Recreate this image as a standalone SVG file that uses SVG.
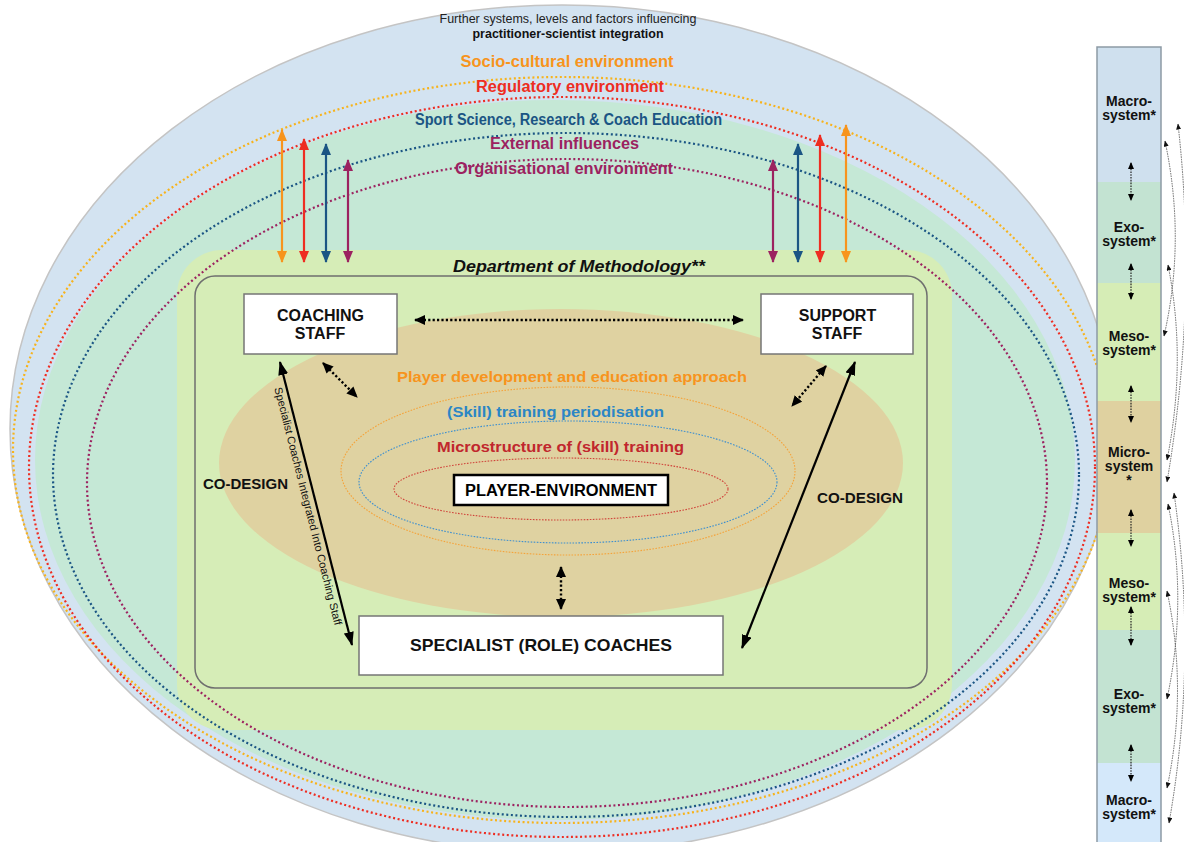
<svg xmlns="http://www.w3.org/2000/svg" width="1184" height="842" viewBox="0 0 1184 842">
<defs>
<style>
text{font-family:"Liberation Sans",Arial,Helvetica,sans-serif;}
.env{font-size:16px;font-weight:bold;text-anchor:middle}
.box{fill:#fff;stroke:#767676;stroke-width:1.5}
.lbl{font-size:17px;font-weight:bold;text-anchor:middle;fill:#111}
.lbl2{font-size:16px;font-weight:bold;text-anchor:middle;fill:#111}
.col{font-size:14px;font-weight:bold;text-anchor:middle;fill:#111}
.dotE{fill:none;stroke-width:2.2;stroke-dasharray:2 2.6}
.thinE{fill:none;stroke-width:1.1;stroke-dasharray:1.6 1.4}
.carr{stroke-width:2.2;fill:none}
.kdot{stroke:#000;stroke-width:2.4;stroke-dasharray:2.2 2.2;fill:none}
.ksol{stroke:#000;stroke-width:2.2;fill:none}
.cdot{stroke:#222;stroke-width:1.2;stroke-dasharray:1.6 1.2;fill:none}
.rc{stroke:#555;stroke-width:0.9;stroke-dasharray:1.5 1;fill:none}
</style>
<marker id="mO" viewBox="0 0 12 10" refX="11" refY="5" markerWidth="12" markerHeight="10" markerUnits="userSpaceOnUse" orient="auto-start-reverse"><path d="M0,0L12,5L0,10z" fill="#f7941d"/></marker>
<marker id="mR" viewBox="0 0 12 10" refX="11" refY="5" markerWidth="12" markerHeight="10" markerUnits="userSpaceOnUse" orient="auto-start-reverse"><path d="M0,0L12,5L0,10z" fill="#ee2d22"/></marker>
<marker id="mB" viewBox="0 0 12 10" refX="11" refY="5" markerWidth="12" markerHeight="10" markerUnits="userSpaceOnUse" orient="auto-start-reverse"><path d="M0,0L12,5L0,10z" fill="#1b5584"/></marker>
<marker id="mP" viewBox="0 0 12 10" refX="11" refY="5" markerWidth="12" markerHeight="10" markerUnits="userSpaceOnUse" orient="auto-start-reverse"><path d="M0,0L12,5L0,10z" fill="#9c2260"/></marker>
<marker id="mK" viewBox="0 0 14 10" refX="13" refY="5" markerWidth="14" markerHeight="10" markerUnits="userSpaceOnUse" orient="auto-start-reverse"><path d="M0,0L14,5L0,10z" fill="#000"/></marker>
<marker id="mKd" viewBox="0 0 11 10" refX="10" refY="5" markerWidth="11" markerHeight="10" markerUnits="userSpaceOnUse" orient="auto-start-reverse"><path d="M0,0L11,5L0,10z" fill="#000"/></marker>
<marker id="mC" viewBox="0 0 7 6" refX="6" refY="3" markerWidth="7" markerHeight="6" markerUnits="userSpaceOnUse" orient="auto-start-reverse"><path d="M0,0L7,3L0,6z" fill="#000"/></marker>
<marker id="mS" viewBox="0 0 6 5" refX="5.5" refY="2.5" markerWidth="6" markerHeight="5" markerUnits="userSpaceOnUse" orient="auto-start-reverse"><path d="M0,0L6,2.5L0,5z" fill="#111"/></marker>
</defs>

<g id="background">
<ellipse cx="562" cy="429" rx="552" ry="424" fill="#d3e3f1" stroke="#c4c4c4" stroke-width="1.5"/>
<ellipse cx="555" cy="460" rx="520" ry="360" fill="#c5e8d6"/>
</g>

<g id="further-systems">
<text x="568" y="22.5" font-size="13" text-anchor="middle" fill="#222" textLength="257" lengthAdjust="spacingAndGlyphs">Further systems, levels and factors influencing</text>
<text x="568" y="37.5" font-size="13" font-weight="bold" text-anchor="middle" fill="#111" textLength="191" lengthAdjust="spacingAndGlyphs">practitioner-scientist integration</text>
</g>

<g id="department">
<rect x="177" y="250" width="775" height="480" rx="45" fill="#d6edb7"/>
<rect x="195" y="276" width="732" height="412" rx="20" fill="none" stroke="#6f6f6f" stroke-width="1.5"/>
<text x="579" y="272" font-size="17" font-weight="bold" font-style="italic" text-anchor="middle" fill="#111" textLength="252" lengthAdjust="spacingAndGlyphs">Department of Methodology**</text>
</g>

<g id="environment-rings">
<ellipse cx="562" cy="450" rx="549" ry="373" class="dotE" stroke="#f7b31c"/>
<ellipse cx="562" cy="467" rx="533" ry="370" class="dotE" stroke="#ee2d22"/>
<ellipse cx="566" cy="475" rx="513" ry="342" class="dotE" stroke="#1b5584"/>
<ellipse cx="567" cy="483" rx="480" ry="324" class="dotE" stroke="#9c2260"/>
<text x="567" y="66.5" class="env" fill="#f7941d" textLength="213" lengthAdjust="spacingAndGlyphs">Socio-cultural environment</text>
<text x="570" y="91.5" class="env" fill="#ee2d22" textLength="188" lengthAdjust="spacingAndGlyphs">Regulatory environment</text>
<text x="568.5" y="124.5" class="env" fill="#1b5584" textLength="307" lengthAdjust="spacingAndGlyphs">Sport Science, Research &amp; Coach Education</text>
<text x="564.5" y="148.5" class="env" fill="#9c2260" textLength="149" lengthAdjust="spacingAndGlyphs">External influences</text>
<text x="564" y="173.5" class="env" fill="#9c2260" textLength="218" lengthAdjust="spacingAndGlyphs">Organisational environment</text>
</g>

<g id="player-approach">
<ellipse cx="561" cy="463" rx="342" ry="154" fill="#dfd2a1"/>
<ellipse cx="568" cy="471" rx="227" ry="84" class="thinE" stroke="#f5a33a"/>
<ellipse cx="568" cy="482" rx="209" ry="61" class="thinE" stroke="#3d8fd0"/>
<ellipse cx="561" cy="489" rx="167" ry="31" class="thinE" stroke="#d0433a"/>
<text x="572" y="381.5" font-size="15.5" font-weight="bold" text-anchor="middle" fill="#f7941d" textLength="350" lengthAdjust="spacingAndGlyphs">Player development and education approach</text>
<text x="555.5" y="416.5" font-size="15.5" font-weight="bold" text-anchor="middle" fill="#2b86c5" textLength="217" lengthAdjust="spacingAndGlyphs">(Skill) training periodisation</text>
<text x="560.5" y="451.5" font-size="15.5" font-weight="bold" text-anchor="middle" fill="#c1272d" textLength="247" lengthAdjust="spacingAndGlyphs">Microstructure of (skill) training</text>
</g>

<g id="player-environment">
<rect x="454" y="475" width="214" height="30" fill="#fff" stroke="#000" stroke-width="2.5"/>
<text x="561" y="496" font-size="16" font-weight="bold" text-anchor="middle" fill="#000" textLength="192" lengthAdjust="spacingAndGlyphs">PLAYER-ENVIRONMENT</text>
</g>

<g id="coaching-staff">
<rect x="244" y="294" width="153" height="60" class="box"/>
<text class="lbl2"><tspan x="320.5" y="321">COACHING</tspan><tspan x="320" y="339">STAFF</tspan></text>
</g>

<g id="support-staff">
<rect x="761" y="294" width="152" height="60" class="box"/>
<text class="lbl2"><tspan x="837.5" y="321">SUPPORT</tspan><tspan x="837" y="339">STAFF</tspan></text>
</g>

<g id="specialist-coaches">
<rect x="359" y="616" width="364" height="59" class="box"/>
<text x="541" y="651" class="lbl" textLength="262" lengthAdjust="spacingAndGlyphs">SPECIALIST (ROLE) COACHES</text>
</g>

<g id="connectors">
<line x1="282" y1="130" x2="282" y2="262" class="carr" stroke="#f7941d" marker-start="url(#mO)" marker-end="url(#mO)"/>
<line x1="304" y1="139" x2="304" y2="262" class="carr" stroke="#ee2d22" marker-start="url(#mR)" marker-end="url(#mR)"/>
<line x1="326" y1="144" x2="326" y2="262" class="carr" stroke="#1b5584" marker-start="url(#mB)" marker-end="url(#mB)"/>
<line x1="348" y1="160" x2="348" y2="262" class="carr" stroke="#9c2260" marker-start="url(#mP)" marker-end="url(#mP)"/>
<line x1="773" y1="160" x2="773" y2="262" class="carr" stroke="#9c2260" marker-start="url(#mP)" marker-end="url(#mP)"/>
<line x1="798" y1="144" x2="798" y2="262" class="carr" stroke="#1b5584" marker-start="url(#mB)" marker-end="url(#mB)"/>
<line x1="820" y1="135" x2="820" y2="262" class="carr" stroke="#ee2d22" marker-start="url(#mR)" marker-end="url(#mR)"/>
<line x1="846" y1="125" x2="846" y2="262" class="carr" stroke="#f7941d" marker-start="url(#mO)" marker-end="url(#mO)"/>

<line x1="415" y1="320" x2="743" y2="320" class="kdot" marker-start="url(#mKd)" marker-end="url(#mKd)"/>
<line x1="323" y1="363" x2="357" y2="397" class="kdot" marker-start="url(#mKd)" marker-end="url(#mKd)"/>
<line x1="826" y1="366" x2="792" y2="406" class="kdot" marker-start="url(#mKd)" marker-end="url(#mKd)"/>
<line x1="561" y1="567" x2="561" y2="609" class="kdot" marker-start="url(#mKd)" marker-end="url(#mKd)"/>

<line x1="280" y1="362" x2="352" y2="645" class="ksol" marker-start="url(#mK)" marker-end="url(#mK)"/>
<line x1="855" y1="362" x2="742" y2="648" class="ksol" marker-start="url(#mK)" marker-end="url(#mK)"/>
<text transform="translate(304.5,507) rotate(75.72)" font-size="11" text-anchor="middle" fill="#111" textLength="245" lengthAdjust="spacingAndGlyphs">Specialist Coaches Integrated Into Coaching Staff</text>
<text x="245.5" y="488.5" font-size="15" font-weight="bold" text-anchor="middle" fill="#111" textLength="85" lengthAdjust="spacingAndGlyphs">CO-DESIGN</text>
<text x="860" y="502.5" font-size="15" font-weight="bold" text-anchor="middle" fill="#111" textLength="86" lengthAdjust="spacingAndGlyphs">CO-DESIGN</text>
</g>

<g id="system-column">
<rect x="1097" y="47" width="64" height="135" fill="#cfe0ee"/>
<rect x="1097" y="182" width="64" height="101" fill="#c3e3d2"/>
<rect x="1097" y="283" width="64" height="118" fill="#d6edb6"/>
<rect x="1097" y="401" width="64" height="132" fill="#dfd1a0"/>
<rect x="1097" y="533" width="64" height="97" fill="#d6edb6"/>
<rect x="1097" y="630" width="64" height="133" fill="#c3e3d2"/>
<rect x="1097" y="763" width="64" height="82" fill="#d4e8fa"/>
<rect x="1097" y="47" width="64" height="798" fill="none" stroke="#8d9aa5" stroke-width="1.5"/>
<text class="col"><tspan x="1129" y="106">Macro-</tspan><tspan x="1129" y="120">system*</tspan></text>
<text class="col"><tspan x="1129" y="232">Exo-</tspan><tspan x="1129" y="246">system*</tspan></text>
<text class="col"><tspan x="1129" y="341">Meso-</tspan><tspan x="1129" y="355">system*</tspan></text>
<text class="col"><tspan x="1129" y="457">Micro-</tspan><tspan x="1129" y="471">system</tspan><tspan x="1129" y="485">*</tspan></text>
<text class="col"><tspan x="1129" y="588">Meso-</tspan><tspan x="1129" y="602">system*</tspan></text>
<text class="col"><tspan x="1129" y="699">Exo-</tspan><tspan x="1129" y="713">system*</tspan></text>
<text class="col"><tspan x="1129" y="805">Macro-</tspan><tspan x="1129" y="819">system*</tspan></text>
</g>

<g id="column-connectors">
<line x1="1131" y1="163" x2="1131" y2="200" class="cdot" marker-start="url(#mC)" marker-end="url(#mC)"/>
<line x1="1131" y1="264" x2="1131" y2="299" class="cdot" marker-start="url(#mC)" marker-end="url(#mC)"/>
<line x1="1131" y1="386" x2="1131" y2="422" class="cdot" marker-start="url(#mC)" marker-end="url(#mC)"/>
<line x1="1131" y1="510" x2="1131" y2="546" class="cdot" marker-start="url(#mC)" marker-end="url(#mC)"/>
<line x1="1131" y1="607" x2="1131" y2="645" class="cdot" marker-start="url(#mC)" marker-end="url(#mC)"/>
<line x1="1131" y1="745" x2="1131" y2="781" class="cdot" marker-start="url(#mC)" marker-end="url(#mC)"/>
<path d="M1178,124 Q1198,300 1167,482" class="rc" marker-start="url(#mS)" marker-end="url(#mS)"/>
<path d="M1165,141 Q1186,240 1164,336" class="rc" marker-start="url(#mS)" marker-end="url(#mS)"/>
<path d="M1168,265 Q1187,360 1167,460" class="rc" marker-start="url(#mS)" marker-end="url(#mS)"/>
<path d="M1174,493 Q1198,660 1169,823" class="rc" marker-start="url(#mS)" marker-end="url(#mS)"/>
<path d="M1168,504 Q1188,600 1167,699" class="rc" marker-start="url(#mS)" marker-end="url(#mS)"/>
<path d="M1167,591 Q1188,690 1167,788" class="rc" marker-start="url(#mS)" marker-end="url(#mS)"/>
</g>
</svg>
